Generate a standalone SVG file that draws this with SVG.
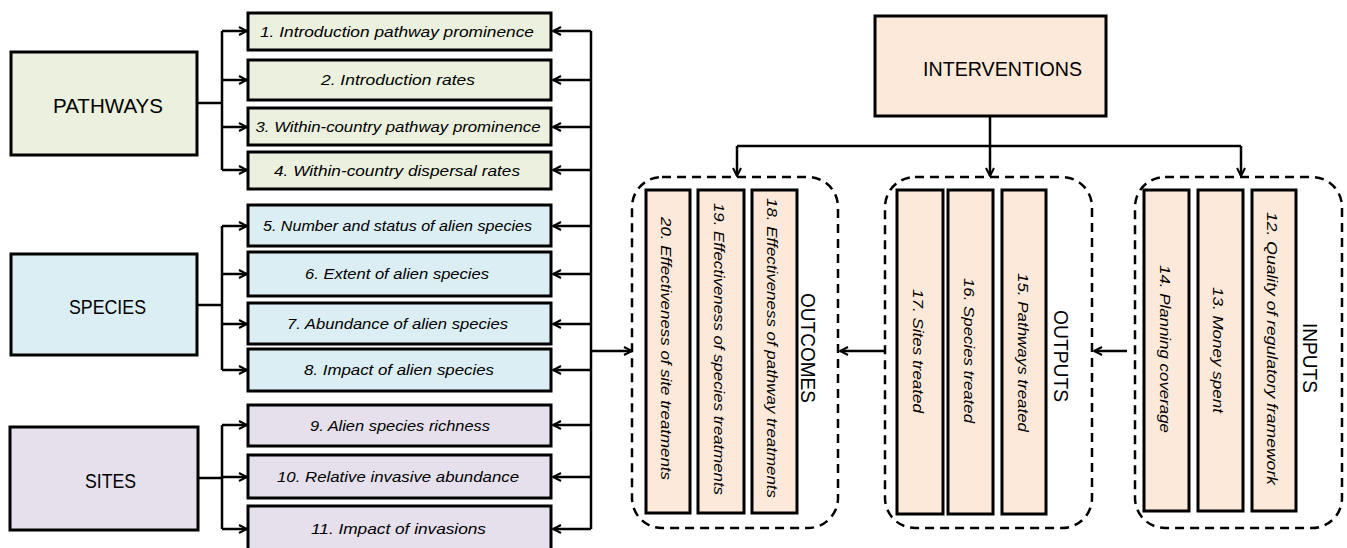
<svg xmlns="http://www.w3.org/2000/svg" width="1347" height="548" viewBox="0 0 1347 548">
<style>
.box{stroke:#000;stroke-width:3}
.g{fill:#EBF1DE}.b{fill:#DBEEF4}.p{fill:#E5E0EC}.o{fill:#FDE9D9}
.lbl{font-family:"Liberation Sans",Arial,sans-serif;font-size:21px;fill:#000;text-anchor:middle}
.rl{font-family:"Liberation Sans",Arial,sans-serif;font-size:20px;fill:#000;text-anchor:middle}
.ind{font-family:"Liberation Sans",Arial,sans-serif;font-size:14px;font-style:italic;fill:#000;text-anchor:middle}
.conn{stroke:#000;stroke-width:2.5;fill:none}
.dash{fill:none;stroke:#000;stroke-width:2.5;stroke-dasharray:9 6}
</style>
<defs>
<marker id="arr" viewBox="0 0 10 10" refX="9" refY="5" markerWidth="10" markerHeight="10" markerUnits="userSpaceOnUse" orient="auto">
<path d="M1,1 L9,5 L1,9" fill="none" stroke="#000" stroke-width="2"/>
</marker>
</defs>
<rect width="1347" height="548" fill="#fff"/>

<g id="connectors">
<!-- pathways -->
<path class="conn" d="M197,103 H222 M222,31 V170"/>
<path class="conn" marker-end="url(#arr)" d="M222,31 H247"/>
<path class="conn" marker-end="url(#arr)" d="M222,80 H247"/>
<path class="conn" marker-end="url(#arr)" d="M222,127 H247"/>
<path class="conn" marker-end="url(#arr)" d="M222,170 H247"/>
<!-- species -->
<path class="conn" d="M197,305 H222 M222,226 V370"/>
<path class="conn" marker-end="url(#arr)" d="M222,226 H247"/>
<path class="conn" marker-end="url(#arr)" d="M222,274 H247"/>
<path class="conn" marker-end="url(#arr)" d="M222,324 H247"/>
<path class="conn" marker-end="url(#arr)" d="M222,370 H247"/>
<!-- sites -->
<path class="conn" d="M198,478 H222 M222,425 V529"/>
<path class="conn" marker-end="url(#arr)" d="M222,425 H247"/>
<path class="conn" marker-end="url(#arr)" d="M222,477 H247"/>
<path class="conn" marker-end="url(#arr)" d="M222,529 H247"/>
<!-- right bus -->
<path class="conn" d="M591,31 V529"/>
<path class="conn" marker-end="url(#arr)" d="M591,31 H553"/>
<path class="conn" marker-end="url(#arr)" d="M591,80 H553"/>
<path class="conn" marker-end="url(#arr)" d="M591,127 H553"/>
<path class="conn" marker-end="url(#arr)" d="M591,170 H553"/>
<path class="conn" marker-end="url(#arr)" d="M591,226 H553"/>
<path class="conn" marker-end="url(#arr)" d="M591,274 H553"/>
<path class="conn" marker-end="url(#arr)" d="M591,324 H553"/>
<path class="conn" marker-end="url(#arr)" d="M591,370 H553"/>
<path class="conn" marker-end="url(#arr)" d="M591,425 H553"/>
<path class="conn" marker-end="url(#arr)" d="M591,477 H553"/>
<path class="conn" marker-end="url(#arr)" d="M591,529 H553"/>
<path class="conn" marker-end="url(#arr)" d="M591,351 H632"/>
<!-- interventions -->
<path class="conn" d="M990,116 V146 M737,146 H1241"/>
<path class="conn" marker-end="url(#arr)" d="M737,146 V176"/>
<path class="conn" marker-end="url(#arr)" d="M990,146 V176"/>
<path class="conn" marker-end="url(#arr)" d="M1241,146 V176"/>
<!-- between groups -->
<path class="conn" marker-end="url(#arr)" d="M885,351 H840"/>
<path class="conn" marker-end="url(#arr)" d="M1127,351 H1094"/>
</g>

<g id="pathways"><rect class="box g" x="11" y="52" width="186" height="103"/><text class="lbl" x="108" y="113" textLength="110" lengthAdjust="spacingAndGlyphs">PATHWAYS</text></g>
<g id="species"><rect class="box b" x="11" y="254" width="186" height="101"/><text class="lbl" x="107.5" y="314" textLength="77" lengthAdjust="spacingAndGlyphs">SPECIES</text></g>
<g id="sites"><rect class="box p" x="10" y="427" width="188" height="103"/><text class="lbl" x="110.5" y="488" textLength="51" lengthAdjust="spacingAndGlyphs">SITES</text></g>

<g id="ind1"><rect class="box g" x="248" y="13" width="303" height="37"/><text class="ind" x="397" y="36.5" textLength="274" lengthAdjust="spacingAndGlyphs">1. Introduction pathway prominence</text></g>
<g id="ind2"><rect class="box g" x="248" y="60" width="303" height="40"/><text class="ind" x="398" y="85" textLength="154" lengthAdjust="spacingAndGlyphs">2. Introduction rates</text></g>
<g id="ind3"><rect class="box g" x="248" y="108" width="303" height="37"/><text class="ind" x="398" y="131.5" textLength="285" lengthAdjust="spacingAndGlyphs">3. Within-country pathway prominence</text></g>
<g id="ind4"><rect class="box g" x="248" y="152" width="303" height="37"/><text class="ind" x="397" y="175.5" textLength="246" lengthAdjust="spacingAndGlyphs">4. Within-country dispersal rates</text></g>
<g id="ind5"><rect class="box b" x="248" y="205" width="303" height="41"/><text class="ind" x="397.5" y="230.5" textLength="269" lengthAdjust="spacingAndGlyphs">5. Number and status of alien species</text></g>
<g id="ind6"><rect class="box b" x="248" y="252" width="303" height="44"/><text class="ind" x="397" y="279" textLength="184" lengthAdjust="spacingAndGlyphs">6. Extent of alien species</text></g>
<g id="ind7"><rect class="box b" x="248" y="303" width="303" height="41"/><text class="ind" x="397.5" y="328.5" textLength="221" lengthAdjust="spacingAndGlyphs">7. Abundance of alien species</text></g>
<g id="ind8"><rect class="box b" x="248" y="349" width="303" height="42"/><text class="ind" x="399" y="375" textLength="190" lengthAdjust="spacingAndGlyphs">8. Impact of alien species</text></g>
<g id="ind9"><rect class="box p" x="248" y="405" width="303" height="41"/><text class="ind" x="400" y="430.5" textLength="180" lengthAdjust="spacingAndGlyphs">9. Alien species richness</text></g>
<g id="ind10"><rect class="box p" x="248" y="455" width="303" height="43"/><text class="ind" x="398" y="481.5" textLength="242" lengthAdjust="spacingAndGlyphs">10. Relative invasive abundance</text></g>
<g id="ind11"><rect class="box p" x="248" y="506" width="303" height="50"/><text class="ind" x="398.5" y="534" textLength="175" lengthAdjust="spacingAndGlyphs">11. Impact of invasions</text></g>

<g id="interventions"><rect class="box o" x="875" y="16" width="231" height="100"/><text class="lbl" x="1002.5" y="76" textLength="159" lengthAdjust="spacingAndGlyphs">INTERVENTIONS</text></g>

<g id="outcomes">
<rect class="dash" x="632" y="177" width="206" height="351" rx="30"/>
<text class="rl" transform="translate(808,348) rotate(90)" dy="0.35em" textLength="110" lengthAdjust="spacingAndGlyphs">OUTCOMES</text>
</g>
<g id="ind20"><rect class="box o" x="646" y="190" width="44" height="323"/><text class="ind" transform="translate(666,348.5) rotate(90)" dy="0.35em" textLength="263" lengthAdjust="spacingAndGlyphs">20. Effectiveness of site treatments</text></g>
<g id="ind19"><rect class="box o" x="698" y="190" width="46" height="323"/><text class="ind" transform="translate(719,349) rotate(90)" dy="0.35em" textLength="292" lengthAdjust="spacingAndGlyphs">19. Effectiveness of species treatments</text></g>
<g id="ind18"><rect class="box o" x="752" y="190" width="45" height="323"/><text class="ind" transform="translate(772,348) rotate(90)" dy="0.35em" textLength="300" lengthAdjust="spacingAndGlyphs">18. Effectiveness of pathway treatments</text></g>

<g id="outputs">
<rect class="dash" x="885" y="177" width="207" height="351" rx="30"/>
<text class="rl" transform="translate(1061,356) rotate(90)" dy="0.35em" textLength="92" lengthAdjust="spacingAndGlyphs">OUTPUTS</text>
</g>
<g id="ind17"><rect class="box o" x="897" y="190" width="46" height="324"/><text class="ind" transform="translate(918,351) rotate(90)" dy="0.35em" textLength="124" lengthAdjust="spacingAndGlyphs">17. Sites treated</text></g>
<g id="ind16"><rect class="box o" x="948" y="190" width="45" height="324"/><text class="ind" transform="translate(968.5,350.5) rotate(90)" dy="0.35em" textLength="145" lengthAdjust="spacingAndGlyphs">16. Species treated</text></g>
<g id="ind15"><rect class="box o" x="1002" y="190" width="44" height="324"/><text class="ind" transform="translate(1023,352.5) rotate(90)" dy="0.35em" textLength="159" lengthAdjust="spacingAndGlyphs">15. Pathways treated</text></g>

<g id="inputs">
<rect class="dash" x="1135" y="177" width="207" height="351" rx="30"/>
<text class="rl" transform="translate(1310,358) rotate(90)" dy="0.35em" textLength="70" lengthAdjust="spacingAndGlyphs">INPUTS</text>
</g>
<g id="ind14"><rect class="box o" x="1144" y="190" width="45" height="321"/><text class="ind" transform="translate(1164.5,349) rotate(90)" dy="0.35em" textLength="168" lengthAdjust="spacingAndGlyphs">14. Planning coverage</text></g>
<g id="ind13"><rect class="box o" x="1198" y="190" width="45" height="321"/><text class="ind" transform="translate(1218,350) rotate(90)" dy="0.35em" textLength="126" lengthAdjust="spacingAndGlyphs">13. Money spent</text></g>
<g id="ind12"><rect class="box o" x="1252" y="190" width="44" height="321"/><text class="ind" transform="translate(1272,348.5) rotate(90)" dy="0.35em" textLength="273" lengthAdjust="spacingAndGlyphs">12. Quality of regulatory framework</text></g>
</svg>
